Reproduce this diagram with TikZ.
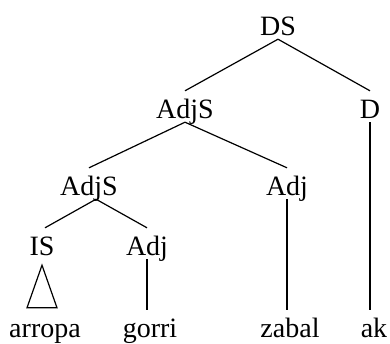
\documentclass[tikz,border=0pt]{standalone}
\usepackage{fontspec}
\setmainfont{Liberation Serif}
\usetikzlibrary{calc}
\tikzset{
  lbl/.style={anchor=base, font=\fontsize{28pt}{30pt}\selectfont,
    text height=23pt, text depth=0pt, inner xsep=1pt, inner ysep=4pt},
  edge/.style={draw=black, line width=1.2pt}
}
\begin{document}
\begin{tikzpicture}[x=1pt,y=-1pt]
\useasboundingbox (0,0) rectangle (390,343);
\node[lbl] (DS) at (278,35) {DS};
\node[lbl] (AdjS) at (185,118) {AdjS};
\node[lbl] (D) at (370,118) {D};
\node[lbl] (AdjSb) at (89,195) {AdjS};
\node[lbl] (AdjA) at (287,195) {Adj};
\node[lbl] (IS) at (42,255) {IS};
\node[lbl] (AdjB) at (147,255) {Adj};
\node[lbl] (arropa) at (45,337) {arropa};
\node[lbl] (gorri) at (150,337) {gorri};
\node[lbl] (zabal) at (290,337) {zabal};
\node[lbl] (ak) at (374,337) {ak};
\draw[edge] (DS.south) -- (AdjS.north);
\draw[edge] (DS.south) -- (D.north);
\draw[edge] (AdjS.south) -- (AdjSb.north);
\draw[edge] (AdjS.south) -- (AdjA.north);
\draw[edge] ($(AdjSb.south)+(7pt,0)$) -- ($(IS.north)+(3pt,0)$);
\draw[edge] ($(AdjSb.south)+(7pt,0)$) -- (AdjB.north);
\draw[edge] (AdjB.south) -- (AdjB.south |- gorri.north);
\draw[edge] (AdjA.south) -- (AdjA.south |- zabal.north);
\draw[edge] (D.south) -- (D.south |- ak.north);
\draw[edge, line join=miter] ($(IS.south)+(0,-6pt)$)
  -- ($(IS.south |- arropa.north)+(-15pt,2pt)$)
  -- ($(IS.south |- arropa.north)+(15pt,2pt)$) -- cycle;
\end{tikzpicture}
\end{document}
